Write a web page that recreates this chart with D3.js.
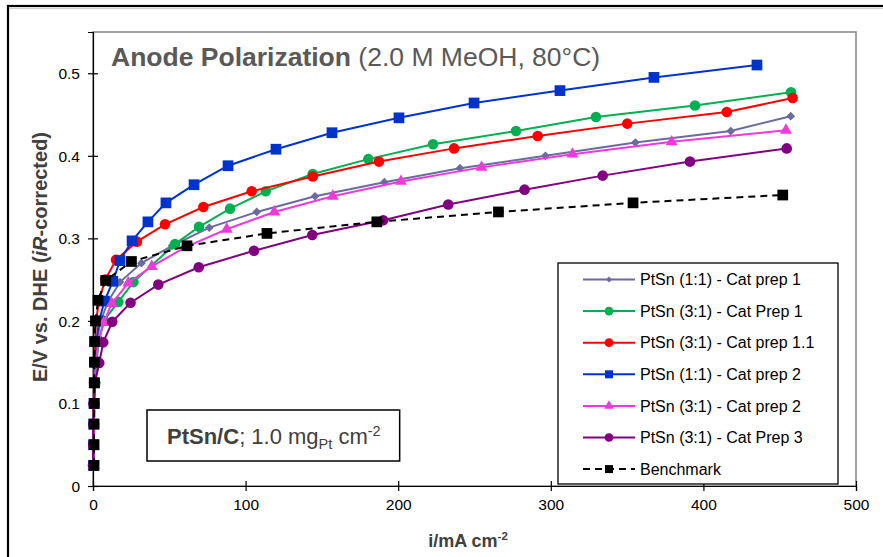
<!DOCTYPE html>
<html><head><meta charset="utf-8">
<script src="https://cdn.jsdelivr.net/npm/d3@7"></script>
<style>
body{margin:0;background:#fff;}
svg text{font-family:"Liberation Sans",Arial,sans-serif;}
</style></head>
<body><svg id="c" width="883" height="557"></svg>
<script>
// ---- data (x: mA cm-2, y: V) ----
const seriesNames = ["PtSn (1:1) - Cat prep 1","PtSn (3:1) - Cat Prep 1","PtSn (3:1) - Cat prep 1.1","PtSn (1:1) - Cat prep 2","PtSn (3:1) - Cat prep 2","PtSn (3:1) - Cat Prep 3","Benchmark"];
const seriesColors = ["#6B6B9E","#00B050","#FF0000","#0033CC","#EE3ADB","#800080","#000000"];
const seriesSymbols = ["diamond","circle","circle","square","triangle","circle","square"];

const ptsn11_prep1 = [[0.3,0.025],[0.4,0.05],[0.5,0.075],[0.7,0.1],[1.0,0.125],[1.5,0.15],[2.5,0.175],[5,0.2],[10,0.224],[17.7,0.247],[31.7,0.27],[51.8,0.291],[76.2,0.313],[107.3,0.332],[145.5,0.351],[190.9,0.368],[240.5,0.385],[296.5,0.400],[355.4,0.416],[417.9,0.430],[457.2,0.448]];
const ptsn31_prep1 = [[0.3,0.025],[0.5,0.05],[0.7,0.075],[1.0,0.1],[1.5,0.125],[2.3,0.15],[3.8,0.175],[7,0.2],[16.6,0.223],[26.5,0.247],[53.7,0.293],[69.5,0.314],[89.8,0.336],[113.2,0.357],[144,0.378],[180.4,0.396],[222.8,0.414],[277.2,0.430],[329.6,0.447],[394.5,0.461],[457.4,0.477]];
const ptsn31_prep11 = [[0.2,0.025],[0.3,0.05],[0.4,0.075],[0.5,0.1],[0.7,0.125],[0.9,0.15],[1.3,0.175],[2,0.2],[4,0.225],[8,0.25],[15.1,0.274],[28.8,0.296],[47.2,0.317],[72.3,0.338],[104,0.357],[144,0.375],[187.4,0.393],[236.6,0.409],[291.4,0.424],[350.1,0.439],[415.3,0.453],[458.5,0.470]];
const ptsn11_prep2 = [[0.3,0.025],[0.4,0.05],[0.5,0.075],[0.7,0.1],[1.0,0.125],[1.5,0.15],[2.2,0.175],[4,0.2],[7.5,0.224],[13,0.248],[17.7,0.273],[25.6,0.297],[36.0,0.320],[47.8,0.343],[66.2,0.365],[88.5,0.388],[119.9,0.408],[156.6,0.428],[200.5,0.446],[249.7,0.464],[306,0.479],[367.6,0.495],[435.1,0.510]];
const ptsn31_prep2 = [[0.3,0.025],[0.4,0.05],[0.6,0.075],[0.8,0.1],[1.2,0.125],[1.8,0.15],[3.5,0.175],[7,0.198],[12.3,0.221],[23.1,0.246],[38.5,0.266],[60.3,0.289],[87.6,0.311],[118.8,0.332],[157.1,0.351],[201.8,0.369],[254.6,0.386],[314.2,0.402],[379.2,0.417],[454.1,0.431]];
const ptsn31_prep3 = [[0.0,0.025],[0.1,0.05],[0.2,0.075],[0.4,0.1],[1.3,0.125],[4.1,0.149],[6.7,0.174],[12.6,0.199],[24.6,0.222],[42.8,0.244],[69.3,0.265],[105.5,0.285],[143.7,0.304],[190.2,0.322],[232.8,0.341],[282.8,0.359],[334,0.376],[391.2,0.393],[454.6,0.409]];
const benchmark = [[0.7,0.025],[0.7,0.05],[0.7,0.075],[0.8,0.1],[0.8,0.125],[0.9,0.15],[1.0,0.175],[1.6,0.2],[3.3,0.225],[8.3,0.249],[25.2,0.272],[61.6,0.291],[114,0.306],[186,0.32],[265.7,0.332],[353.9,0.343],[452,0.3525]];
const seriesData = [ptsn11_prep1, ptsn31_prep1, ptsn31_prep11, ptsn11_prep2, ptsn31_prep2, ptsn31_prep3, benchmark];

const xTicks = [0,100,200,300,400,500];
const yTicks = [0,0.1,0.2,0.3,0.4,0.5];
const yTickLabels = ["0","0.1","0.2","0.3","0.4","0.5"];

// ---- layout ----
const svg = d3.select("#c");
const W = 883, H = 557;
const x = d3.scaleLinear().domain([0,500]).range([93,856]);
const y = d3.scaleLinear().domain([0,0.55]).range([486,32]);

// chart outer border
svg.append("rect").attr("x",8).attr("y",6).attr("width",W+20).attr("height",H+20)
  .attr("fill","#fff").attr("stroke","#000").attr("stroke-width",2.2);
svg.append("line").attr("x1",9).attr("x2",W).attr("y1",8.6).attr("y2",8.6).attr("stroke","#ccc").attr("stroke-width",1);

// plot area border (grey)
svg.append("rect").attr("x",x(0)).attr("y",y(0.55)).attr("width",x(500)-x(0)).attr("height",y(0)-y(0.55))
  .attr("fill","none").attr("stroke","#8c8c8c").attr("stroke-width",1.6);

// axes
const xAxis = d3.axisBottom(x).tickValues(xTicks).tickSize(5).tickFormat(d3.format("d"));
const gx = svg.append("g").attr("transform",`translate(0,${y(0)})`).call(xAxis);
const yAxis = d3.axisLeft(y).tickValues(yTicks).tickSize(5).tickFormat((d,i)=>yTickLabels[i]);
const gy = svg.append("g").attr("transform",`translate(${x(0)},0)`).call(yAxis);
[gx,gy].forEach(g=>{
  g.select(".domain").attr("stroke","#000").attr("stroke-width",1.2);
  g.selectAll(".tick line").attr("stroke","#000").attr("stroke-width",1.2);
  g.selectAll(".tick text").attr("font-size",15.5).attr("fill","#000").attr("font-family","Liberation Sans, Arial, sans-serif");
});
gx.selectAll(".tick line").attr("y1",-5).attr("y2",5);
gy.selectAll(".tick line").attr("x1",-5).attr("x2",5);
gx.selectAll(".tick text").attr("y",13);
gy.selectAll(".tick text").attr("x",-13).attr("dy","0.35em");

// symbols
function symPath(kind, big){
  if(kind==="square") return d3.symbol(d3.symbolSquare, big?115:64)();
  if(kind==="circle") return d3.symbol(d3.symbolCircle, big?88:60)();
  if(kind==="triangle") return d3.symbol(d3.symbolTriangle, big?62:42)();
  if(kind==="diamond") return d3.symbol(d3.symbolSquare, big?38:18)();
}
function symRot(kind){ return kind==="diamond" ? " rotate(45)" : ""; }

const line = d3.line().x(d=>x(d[0])).y(d=>y(d[1]));
const plot = svg.append("g");
seriesData.forEach((data,i)=>{
  const g = plot.append("g");
  g.append("path").datum(data).attr("d",line).attr("fill","none")
    .attr("stroke",seriesColors[i]).attr("stroke-width",2)
    .attr("stroke-dasharray", i===6 ? "7,5" : null);
  g.selectAll("path.m").data(data).enter().append("path").attr("class","m")
    .attr("d",symPath(seriesSymbols[i],true))
    .attr("transform",d=>`translate(${x(d[0])},${y(d[1])})${symRot(seriesSymbols[i])}`)
    .attr("fill",seriesColors[i]);
});

// title
const t = svg.append("text").attr("x",111).attr("y",66).attr("font-size",26.5).attr("fill","#595959");
t.append("tspan").attr("font-weight","bold").text("Anode Polarization");
t.append("tspan").text(" (2.0 M MeOH, 80°C)");

// PtSn/C box
const boxG = svg.append("g");
const boxR = boxG.append("rect").attr("x",147).attr("y",410).attr("height",51)
  .attr("fill","#fff").attr("stroke","#000").attr("stroke-width",1.5);
const bt = boxG.append("text").attr("x",167).attr("y",444).attr("font-size",22).attr("fill","#404040");
bt.append("tspan").attr("font-weight","bold").text("PtSn/C");
bt.append("tspan").text("; 1.0 mg");
bt.append("tspan").attr("font-size",14.5).attr("dy",5).text("Pt");
bt.append("tspan").attr("dy",-5).text(" cm");
bt.append("tspan").attr("font-size",14.5).attr("dy",-8).text("-2");
const bb = bt.node().getBBox();
boxR.attr("width", (bb.x + bb.width + 19) - 147);

// legend
svg.append("rect").attr("x",558).attr("y",263).attr("width",280).attr("height",221)
  .attr("fill","#fff").attr("stroke","#000").attr("stroke-width",1.3);
seriesNames.forEach((name,i)=>{
  const ly = 279.5 + i*31.6;
  const g = svg.append("g");
  g.append("line").attr("x1",583).attr("x2",635).attr("y1",ly).attr("y2",ly)
    .attr("stroke",seriesColors[i]).attr("stroke-width",2)
    .attr("stroke-dasharray", i===6 ? "7,5" : null);
  g.append("path").attr("d",symPath(seriesSymbols[i],false))
    .attr("transform",`translate(609,${ly})${symRot(seriesSymbols[i])}`).attr("fill",seriesColors[i]);
  g.append("text").attr("x",640).attr("y",ly).attr("dy","0.35em").attr("font-size",16).attr("fill","#000").text(name);
});

// axis titles
svg.append("text").attr("transform","translate(47,257) rotate(-90)").attr("text-anchor","middle")
  .attr("font-size",20).attr("font-weight","bold").attr("fill","#404040")
  .call(s=>{ s.append("tspan").text("E/V vs. DHE (");
             s.append("tspan").attr("font-style","italic").text("iR");
             s.append("tspan").text("-corrected)"); });
const xl = svg.append("text").attr("x",468).attr("y",547).attr("text-anchor","middle")
  .attr("font-size",18).attr("font-weight","bold").attr("fill","#404040");
xl.append("tspan").text("i/mA cm");
xl.append("tspan").attr("font-size",11.5).attr("dy",-7).text("-2");
</script></body></html>
